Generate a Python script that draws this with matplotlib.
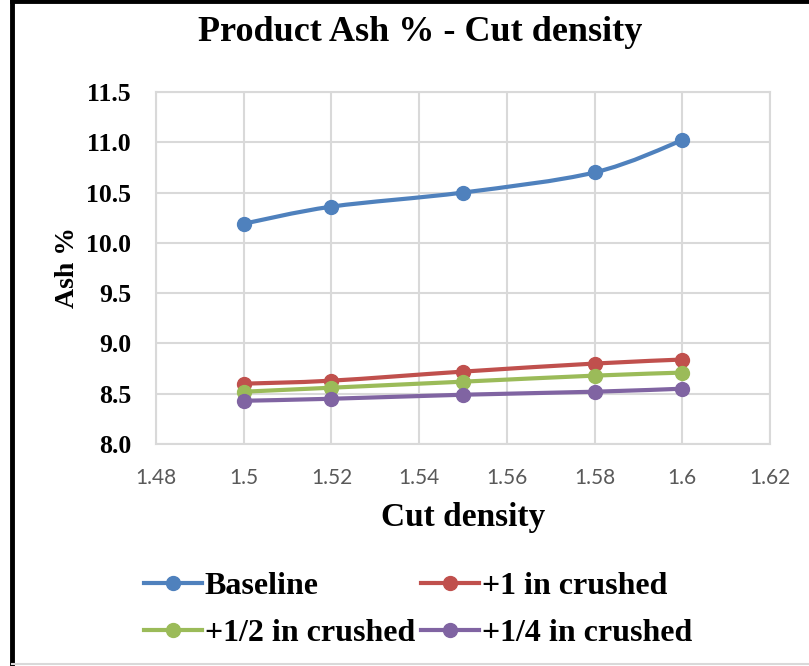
import numpy as np
import matplotlib
matplotlib.use("Agg")
import matplotlib.pyplot as plt
from matplotlib.path import Path
from matplotlib.patches import PathPatch
from matplotlib.lines import Line2D

# data
cut_density = [1.5, 1.52, 1.55, 1.58, 1.6]
baseline = [10.19, 10.36, 10.50, 10.70, 11.02]
plus_1 = [8.60, 8.63, 8.72, 8.80, 8.84]
plus_half = [8.52, 8.56, 8.62, 8.68, 8.71]
plus_quarter = [8.43, 8.45, 8.49, 8.52, 8.55]

series_names = ["Baseline", "+1 in crushed", "+1/2 in crushed", "+1/4 in crushed"]
series_values = [baseline, plus_1, plus_half, plus_quarter]
colors = ["#4F81BD", "#C0504D", "#9BBB59", "#8064A2"]

x_ticks = [1.48, 1.5, 1.52, 1.54, 1.56, 1.58, 1.6, 1.62]
x_tick_labels = ["1.48", "1.5", "1.52", "1.54", "1.56", "1.58", "1.6", "1.62"]
y_ticks = [8.0, 8.5, 9.0, 9.5, 10.0, 10.5, 11.0, 11.5]

serif = "Liberation Serif"
grid_col = "#D9D9D9"


# Excel-style smoothed line: Catmull-Rom segments as cubic Beziers
def smooth_path(xs, ys):
    p = np.column_stack((xs, ys))
    pts = np.vstack((p[0], p, p[-1]))
    verts = [p[0]]
    codes = [Path.MOVETO]
    for i in range(1, len(pts) - 2):
        c1 = pts[i] + (pts[i + 1] - pts[i - 1]) / 6
        c2 = pts[i + 1] - (pts[i + 2] - pts[i]) / 6
        verts += [c1, c2, pts[i + 1]]
        codes += [Path.CURVE4] * 3
    return Path(verts, codes)


fig = plt.figure(figsize=(8.09, 6.66), dpi=100)
ax = fig.add_axes([0.1928, 0.3333, 0.7590, 0.5286])

for vals, col in zip(series_values, colors):
    patch = PathPatch(smooth_path(cut_density, vals), facecolor="none",
                      edgecolor=col, lw=3, capstyle="round", zorder=3)
    ax.add_patch(patch)
    ax.plot(cut_density, vals, linestyle="none", marker="o", ms=10,
            color=col, zorder=4)

ax.set_xlim(1.48, 1.62)
ax.set_ylim(8.0, 11.5)
ax.set_xticks(x_ticks)
ax.set_xticklabels(x_tick_labels)
ax.set_yticks(y_ticks)
ax.set_yticklabels([f"{v:.1f}" for v in y_ticks])
ax.grid(True, color=grid_col, lw=1.5)
ax.set_axisbelow(True)
for s in ax.spines.values():
    s.set_color(grid_col)
    s.set_linewidth(1.5)
ax.tick_params(length=0)
ax.tick_params(axis="x", pad=17, labelsize=15, labelcolor="#595959")
ax.tick_params(axis="y", pad=18)
for lab in ax.get_xticklabels():
    lab.set_fontfamily("Lato")
for lab in ax.get_yticklabels():
    lab.set_fontfamily(serif)
    lab.set_fontweight("bold")
    lab.set_fontsize(18.5)

ax.set_xlabel("Cut density", fontfamily=serif, fontweight="bold", fontsize=24,
              labelpad=10)
ax.set_ylabel("Ash %", fontfamily=serif, fontweight="bold", fontsize=20,
              labelpad=4)
fig.text(0.52, 0.951, "Product Ash % - Cut density", ha="center", va="center",
         fontfamily=serif, fontweight="bold", fontsize=26)

# legend: fills column-wise, so reorder to get two rows
handles = [Line2D([], [], color=c, lw=3, marker="o", ms=10) for c in colors]
order = [0, 2, 1, 3]
fig.legend([handles[i] for i in order], [series_names[i] for i in order],
           ncol=2, loc="center", bbox_to_anchor=(0.517, 0.084),
           frameon=False, handlelength=1.8, handletextpad=0.1,
           columnspacing=0.2, labelspacing=0.55,
           prop={"family": serif, "weight": "bold", "size": 23})

# outer frame
fig.add_artist(Line2D([0.015, 0.015], [0, 1], transform=fig.transFigure,
                      color="black", lw=3.5))
fig.add_artist(Line2D([0.015, 1], [0.998, 0.998], transform=fig.transFigure,
                      color="black", lw=3.5))
fig.add_artist(Line2D([0.015, 1], [0.003, 0.003], transform=fig.transFigure,
                      color=grid_col, lw=1.5))

fig.savefig("out.png", dpi=100)
